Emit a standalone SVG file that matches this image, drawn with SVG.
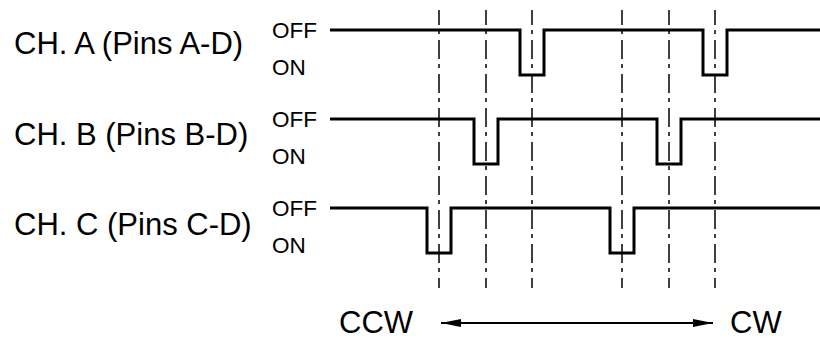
<svg xmlns="http://www.w3.org/2000/svg" width="820" height="341" viewBox="0 0 820 341">
<style>
.big{font-family:"Liberation Sans",Arial,sans-serif;font-size:31px;fill:#000}
.sm{font-family:"Liberation Sans",Arial,sans-serif;font-size:22.5px;fill:#000}
.wave{fill:none;stroke:#000;stroke-width:3;stroke-linejoin:miter;stroke-linecap:butt}
.guide{stroke:#000;stroke-width:1.5;stroke-dasharray:19 5 4 6;stroke-dashoffset:4;fill:none}
.arrow{stroke:#000;stroke-width:2;fill:none}
</style>
<defs>
<marker id="ah" viewBox="0 0 20 8" refX="20" refY="4" markerWidth="20" markerHeight="8" markerUnits="userSpaceOnUse" orient="auto-start-reverse">
<path d="M0,0 L20,4 L0,8 Z" fill="#000"/>
</marker>
</defs>
<rect width="820" height="341" fill="#fff"/>
<g id="guides">
<line class="guide" x1="439" y1="10" x2="439" y2="288"/>
<line class="guide" x1="486" y1="10" x2="486" y2="288"/>
<line class="guide" x1="532" y1="10" x2="532" y2="288"/>
<line class="guide" x1="622" y1="10" x2="622" y2="288"/>
<line class="guide" x1="669" y1="10" x2="669" y2="288"/>
<line class="guide" x1="715" y1="10" x2="715" y2="288"/>
</g>
<g id="chA">
<text class="big" x="14" y="54">CH. A (Pins A-D)</text>
<text class="sm" x="272" y="38">OFF</text>
<text class="sm" x="272" y="75">ON</text>
<path class="wave" d="M330,30 H520 V75 H544 V30 H703 V75 H727 V30 H820"/>
</g>
<g id="chB">
<text class="big" x="14" y="145">CH. B (Pins B-D)</text>
<text class="sm" x="272" y="127">OFF</text>
<text class="sm" x="272" y="164">ON</text>
<path class="wave" d="M330,119 H474 V164 H498 V119 H657 V164 H681 V119 H820"/>
</g>
<g id="chC">
<text class="big" x="14" y="235">CH. C (Pins C-D)</text>
<text class="sm" x="272" y="216">OFF</text>
<text class="sm" x="272" y="253">ON</text>
<path class="wave" d="M330,208 H427 V253 H451 V208 H610 V253 H634 V208 H820"/>
</g>
<g id="ccw"><text class="big" x="339" y="333">CCW</text></g>
<g id="cw"><text class="big" x="730" y="333">CW</text></g>
<g id="connectors">
<line class="arrow" x1="441" y1="323" x2="713" y2="323" marker-start="url(#ah)" marker-end="url(#ah)"/>
</g>
</svg>
